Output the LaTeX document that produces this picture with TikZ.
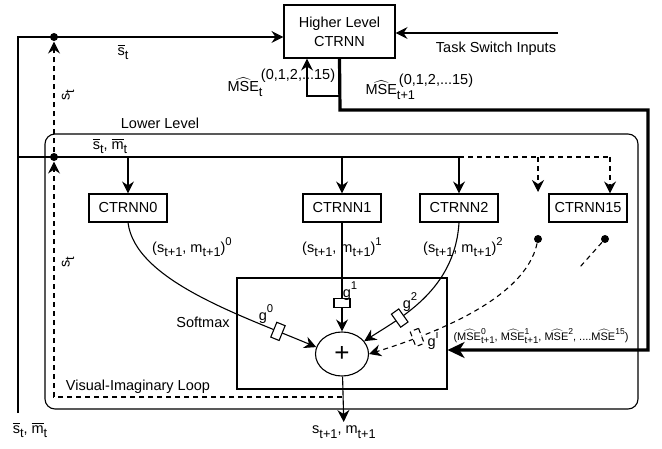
\documentclass[tikz,border=0pt]{standalone}
\usepackage{amsmath}
\usepackage{graphicx}
\usepackage{fontspec}
\setmainfont{Liberation Sans}
\usetikzlibrary{shapes.geometric, arrows.meta, positioning, calc}

\newcommand{\dn}[1]{\raisebox{-0.3em}{\scalebox{0.88}{#1}}}
\newcommand{\up}[1]{\raisebox{0.5em}{\scalebox{0.78}{#1}}}
\newcommand{\ud}[2]{\rlap{\up{#1}}\dn{#2}}
\newcommand{\ov}[1]{$\overline{\mbox{#1}}$}
\newcommand{\mse}{\rlap{\hspace{0.62em}$\widehat{\vphantom{\mbox{M}}\hspace{1.05em}}$}MSE}
\newcommand{\bigfont}{\fontsize{14.5}{19}\selectfont}

\begin{document}
\begin{tikzpicture}[x=1pt, y=-1pt, >={Stealth[length=12pt, width=12pt, inset=4pt]},
        font=\bigfont, line width=1.1pt,
        dashed/.style={dash pattern=on 5pt off 4pt},
        net/.style={draw, minimum width=78pt, minimum height=28pt, inner sep=3pt},
        gate/.style={draw, fill=white, minimum width=9pt, minimum height=16pt, inner sep=0pt},
        dot/.style={circle, fill, inner sep=0pt, minimum size=8pt},
        fat/.style={line width=3.2pt, -{Stealth[length=17pt, width=16pt, inset=5pt]}}]
    \useasboundingbox (0,0) rectangle (662,449);

    % containers
    \node[draw, rounded corners=10pt, minimum width=593pt, minimum height=275pt] (lower) at (341.5,271.5) {};
    \node (lowlbl) at (160,123) {Lower Level};
    \node[draw, minimum width=210pt, minimum height=111pt] (soft) at (342,333.5) {};
    \node (softlbl) at (203,322) {Softmax};
    \node (looplbl) at (138,387) {Visual-Imaginary Loop};

    % networks
    \node[draw, minimum width=111pt, minimum height=53pt, align=center] (hi) at (339.5,31.5) {Higher Level\\CTRNN};
    \node (task) at (496,49) {Task Switch Inputs};
    \coordinate (tsin) at (558,33);
    \node[net] (c0) at (128,208) {CTRNN0};
    \node[net] (c1) at (342,208) {CTRNN1};
    \node[net] (c2) at (459,208) {CTRNN2};
    \node[net] (c15) at (588,208) {CTRNN15};
    \coordinate (c14) at (538,192);
    \node[ellipse, draw, inner sep=0pt, minimum width=53pt, minimum height=44pt, font=\fontsize{26}{26}\selectfont] (sum) at (342,354) {+};

    % inputs and buses
    \coordinate (in) at (18,413);
    \coordinate (j0) at (18,157);
    \node[dot] (d1) at (54,157) {};
    \node[dot] (d0) at (54,37) {};
    \node[dot] (da) at (538,239) {};
    \node[dot] (db) at (605,239) {};
    \coordinate (stub) at (580,267);
    \coordinate (lp) at (342,397);
    \coordinate (fb) at (340,96);

    \draw[->] (in) |- ([yshift=-5.5pt]hi.west);
    \draw[->] (tsin) -- (tsin -| hi.east);
    \draw (j0) -- (c2 |- j0);
    \draw[dashed] (c2 |- j0) -- ([xshift=22pt]c15.north |- j0);
    \draw[->] (c0 |- j0) -- (c0);
    \draw[->] (c1 |- j0) -- (c1);
    \draw[->] (c2 |- j0) -- (c2);
    \draw[->, dashed] (c14 |- j0) -- (c14);
    \draw[->, dashed] ([xshift=22pt]c15.north |- j0) -- ([xshift=22pt]c15.north);
    \draw[->, dashed] (d1) -- (d0);
    \draw[->, dashed] (lp) -| (d1);

    % gated outputs into the sum
    \draw[->] (c0.south) .. controls (135,280) and (240,315) .. (sum.165) node[gate, sloped, pos=0.84] (g0) {};
    \draw[->] (c1) -- (sum) node[gate, sloped, pos=0.74] (g1) {};
    \draw[->] (c2.south) .. controls (455,290) and (400,318) .. (sum.30) node[gate, sloped, pos=0.7] (g2) {};
    \draw[->, dashed] (da) .. controls (525,300) and (430,335) .. (sum.east) node[gate, sloped, pos=0.76] (gi) {};
    \draw[dashed] (db) -- (stub);
    \node (g0lbl) at (266,314) {g\up{0}};
    \node (g1lbl) at (350,291) {g\up{1}};
    \node (g2lbl) at (410,302) {g\up{2}};
    \node (gilbl) at (433,340) {g\up{i}};

    \node (out) at (344,432) {s\dn{t+1}, m\dn{t+1}};
    \draw[->] (sum) -- (out);

    % error feedback to the higher level
    \draw[fat] (hi.south) -- (340,110) -| (648,350) -- ([yshift=-16.5pt]soft.east);
    \draw[->] (fb) -| ([xshift=-32.5pt]hi.south);

    % labels
    \node (sbar) at (123,52) {\ov{s}\dn{t}};
    \node (smbar) at (110,146) {\ov{s}\dn{t}, \ov{m}\dn{t}};
    \node (inlbl) at (30,430) {\ov{s}\dn{t}, \ov{m}\dn{t}};
    \node[rotate=90] (st0) at (68,95) {s\dn{t}};
    \node[rotate=90] (st1) at (68,262) {s\dn{t}};
    \node[anchor=base west, inner sep=0pt] (mset) at (227,92) {\mse\rlap{\dn{t}}\kern2pt\raisebox{12pt}{(0,1,2,...15)}};
    \node[anchor=base west, inner sep=0pt] (msen) at (365,95) {\mse\rlap{\dn{t+1}}\kern2pt\raisebox{10pt}{(0,1,2,...15)}};
    \node (y0) at (192,247) {(s\dn{t+1}, m\dn{t+1})\up{0}};
    \node (y1) at (342,247) {(s\dn{t+1}, m\dn{t+1})\up{1}};
    \node (y2) at (463,247) {(s\dn{t+1}, m\dn{t+1})\up{2}};
    \node[font=\fontsize{11}{13}\selectfont] (msevec) at (541,336) {(\mse\ud{0}{t+1}, \mse\ud{1}{t+1}, \mse\up{2}, ....\mse\up{15})};
\end{tikzpicture}
\end{document}
